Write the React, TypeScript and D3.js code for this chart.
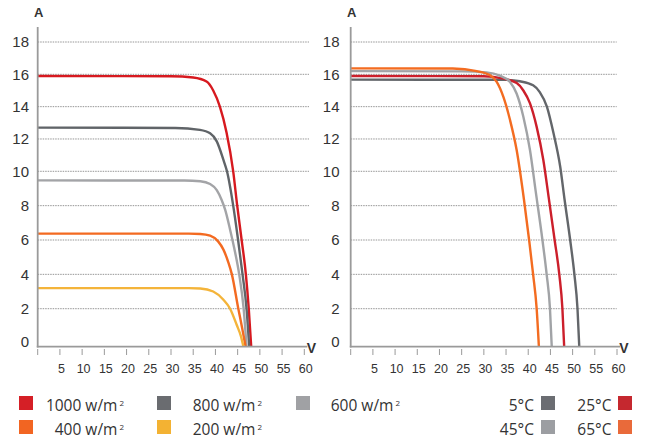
import React from "react";
import * as d3 from "d3";

// ---------- data ----------
const yTicks = [0, 2, 4, 6, 8, 10, 12, 14, 16, 18];
const xTicks = [0, 5, 10, 15, 20, 25, 30, 35, 40, 45, 50, 55, 60];

// Left chart: irradiance
const v1000 = [0, 30, 35, 38, 39.5, 41, 42.5, 44, 44.9, 45.9, 46.85, 47.5, 48.05];
const i1000 = [15.9, 15.88, 15.8, 15.55, 15.0, 14.0, 12.4, 10, 8, 6, 4, 2, 0];
const v800 = [0, 31, 36.5, 38.8, 40.3, 41.8, 42.6, 44.0, 45.1, 46.1, 47.0, 47.6];
const i800 = [12.7, 12.68, 12.56, 12.35, 11.85, 10.7, 10, 8, 6, 4, 2, 0];
const v600 = [0, 33, 36.6, 38.8, 40.3, 41.4, 42.2, 43.3, 44.25, 45.35, 46.35, 47.0];
const i600 = [9.47, 9.46, 9.42, 9.26, 8.9, 8.33, 7.75, 6.6, 5.5, 4, 2, 0];
const v400 = [0, 34, 36.6, 38.8, 40.6, 41.8, 42.9, 43.7, 45.15, 46.0, 46.8];
const i400 = [6.37, 6.37, 6.35, 6.25, 5.92, 5.44, 4.7, 4.0, 2.0, 1.0, 0];
const v200 = [0, 34, 36.6, 39.5, 41.8, 43.3, 44.8, 45.75, 46.3];
const i200 = [3.2, 3.2, 3.18, 3.0, 2.52, 2.0, 1.14, 0.54, 0];

// Right chart: temperature
const v5 = [0, 35, 38.1, 41.1, 42.6, 44.2, 45.7, 47.2, 48.2, 49.45, 50.4, 51.1, 51.5];
const i5 = [15.67, 15.66, 15.57, 15.32, 14.9, 14.0, 12.35, 10.3, 8.33, 6, 4, 2, 0];
const v25 = [0, 30, 34.4, 37.4, 38.9, 40.4, 41.9, 43.4, 44.6, 45.95, 47.0, 47.7, 48.1];
const i25 = [15.9, 15.88, 15.73, 15.46, 15.0, 14.2, 12.75, 10.7, 8.5, 6, 4, 2, 0];
const v45 = [0, 25, 30.6, 33.6, 35.9, 37.4, 38.9, 40.4, 41.7, 43.2, 44.15, 44.9, 45.3];
const i45 = [16.2, 16.18, 16.12, 15.92, 15.53, 14.8, 13.38, 11.3, 8.8, 6, 4, 2, 0];
const v65 = [0, 23, 28.4, 31.4, 32.9, 34.4, 35.9, 37.4, 39.05, 40.2, 41.1, 41.9, 42.4];
const i65 = [16.37, 16.36, 16.2, 15.94, 15.53, 14.6, 13.17, 11.3, 8.33, 6, 4, 2, 0];

const leftSeries = [
  { label: "1000 w/m", v: v1000, i: i1000, color: "#d7191f", sw: "#d51f26" },
  { label: "800 w/m", v: v800, i: i800, color: "#606468", sw: "#6a6c70" },
  { label: "600 w/m", v: v600, i: i600, color: "#a3a4a7", sw: "#a0a1a4" },
  { label: "400 w/m", v: v400, i: i400, color: "#f36a21", sw: "#f26522" },
  { label: "200 w/m", v: v200, i: i200, color: "#f4b43a", sw: "#f3b233" },
];
const rightSeries = [
  { label: "5°C", v: v5, i: i5, color: "#63666a", sw: "#6b6d72" },
  { label: "25°C", v: v25, i: i25, color: "#cc1f2b", sw: "#c5282f" },
  { label: "45°C", v: v45, i: i45, color: "#a1a3a6", sw: "#9c9ea2" },
  { label: "65°C", v: v65, i: i65, color: "#f36c21", sw: "#e96a3a" },
];

const AXIS = "#9a9a9a";
const TXT = "#333";
const NUMFONT = "'Liberation Sans', Arial, sans-serif";
const LEGFONT = "'Open Sans', 'Noto Sans', sans-serif";

function Panel({ x0, x60, gridEnd, labelRight, series }: any) {
  const x = d3.scaleLinear().domain([0, 60]).range([x0, x60]);
  const y = d3.scaleLinear().domain([0, 2, 10, 18]).range([346.7, 308.7, 171.3, 42]);
  const line = (s: any) =>
    d3
      .line<number>()
      .x((_, k) => x(s.v[k]))
      .y((d) => y(d))
      .curve(d3.curveMonotoneX)(s.i) as string;
  return (
    <g>
      {yTicks
        .filter((t) => t > 0)
        .map((t) => (
          <line key={t} x1={x0} x2={gridEnd} y1={y(t)} y2={y(t)} stroke="#8a8a8a" strokeWidth={0.9} strokeDasharray="1.5,1" />
        ))}
      {yTicks.map((t) => (
        <text key={t} x={labelRight} y={t === 0 ? y(t) - 5 : y(t)} dy="0.36em" textAnchor="end" fontSize={15} fontFamily={NUMFONT} fill={TXT}>
          {t}
        </text>
      ))}
      {xTicks.map((t) => (
        <line key={t} x1={x(t)} x2={x(t)} y1={349} y2={355} stroke={AXIS} strokeWidth={1} />
      ))}
      {xTicks
        .filter((t) => t > 0)
        .map((t) => (
          <text key={t} x={x(t) + 1.5} y={368} dy="0.36em" textAnchor="middle" fontSize={12.5} fontFamily={NUMFONT} fill={TXT}>
            {t}
          </text>
        ))}
      {series.map((s: any) => (
        <path key={s.label} d={line(s)} fill="none" stroke={s.color} strokeWidth={2.4} />
      ))}
      <line x1={x0} x2={x0} y1={27} y2={347.5} stroke={AXIS} strokeWidth={1.8} />
      <line x1={x0 - 0.9} x2={x(60) + 3} y1={346.7} y2={346.7} stroke={AXIS} strokeWidth={1.8} />
      <text x={x0 + 1} y={12} dy="0.36em" textAnchor="middle" fontSize={13} fontWeight="bold" fontFamily={NUMFONT} fill={TXT}>
        A
      </text>
      <text x={x(60) + 7} y={348} dy="0.36em" textAnchor="middle" fontSize={14} fontWeight="bold" fontFamily={NUMFONT} fill={TXT}>
        V
      </text>
    </g>
  );
}

function LegendItem({ s, sx, tx, row, textFirst }: any) {
  const sy = row === 0 ? 396 : 420;
  const base = row === 0 ? 411 : 435;
  return (
    <g>
      <rect x={sx} y={sy} width={14} height={14} fill={s.sw} />
      {textFirst ? (
        <text x={tx} y={base} textAnchor="end" fontSize={15.5} fontFamily={LEGFONT} fill={TXT}>
          {s.label}
        </text>
      ) : (
        <text x={tx} y={base} textAnchor="end" fontSize={15.5} fontFamily={LEGFONT} fill={TXT}>
          {s.label}
          <tspan fontSize={8} dx={2} dy={-5}>
            2
          </tspan>
        </text>
      )}
    </g>
  );
}

export default function App() {
  return (
    <svg width={652} height={441} style={{ position: "absolute", left: 0, top: 0, background: "#fff" }}>
      <Panel x0={37.7} x60={304.3} gridEnd={309} labelRight={29} series={leftSeries} />
      <Panel x0={350.7} x60={617} gridEnd={616.7} labelRight={339.5} series={rightSeries} />
      <LegendItem s={leftSeries[0]} sx={19} tx={124} row={0} />
      <LegendItem s={leftSeries[1]} sx={157} tx={262} row={0} />
      <LegendItem s={leftSeries[2]} sx={296} tx={400} row={0} />
      <LegendItem s={leftSeries[3]} sx={19} tx={124} row={1} />
      <LegendItem s={leftSeries[4]} sx={157} tx={262} row={1} />
      <LegendItem s={rightSeries[0]} sx={541} tx={534} row={0} textFirst />
      <LegendItem s={rightSeries[1]} sx={618} tx={611.5} row={0} textFirst />
      <LegendItem s={rightSeries[2]} sx={541} tx={534} row={1} textFirst />
      <LegendItem s={rightSeries[3]} sx={618} tx={611.5} row={1} textFirst />
    </svg>
  );
}
